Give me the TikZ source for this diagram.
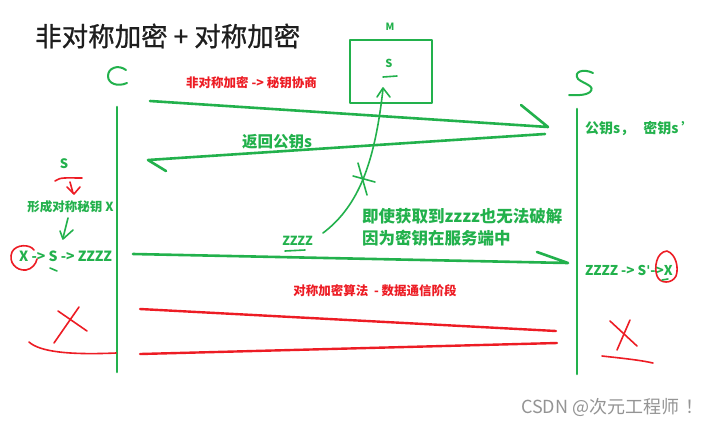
\documentclass[tikz,border=0pt]{standalone}
\usepackage{fontspec}
\setmainfont{Noto Sans CJK SC}
\newfontfamily\dejavu{DejaVu Sans}
\definecolor{pg}{RGB}{34,177,76}
\definecolor{pr}{RGB}{237,28,36}
\definecolor{ttl}{RGB}{30,30,30}
\begin{document}
\begin{tikzpicture}[x=1pt,y=-1pt,line cap=round,line join=round,
  gline/.style={draw=pg,line width=2.6pt},
  rline/.style={draw=pr,line width=2.4pt},
  gpen/.style={draw=pg,line width=1.6pt},
  rpen/.style={draw=pr,line width=1.6pt},
  txt/.style={inner sep=0pt,font=\bfseries\fontsize{#1}{#1}\selectfont},
  gtxt/.style={txt=#1,text=pg},
  rtxt/.style={txt=#1,text=pr}]
\useasboundingbox (0,0) rectangle (719,424);
\fill[white] (0,0) rectangle (719,424);
% title
\node[inner sep=0pt,anchor=west,text=ttl,font=\fontsize{26.5}{26.5}\selectfont\addfontfeatures{FakeBold=0.8}] (title) at (35,36) {非对称加密 + 对称加密};
% C and S handwritten
\draw[gpen,line width=2pt] (126,70) .. controls (118,64) and (108,68) .. (108,76) .. controls (108,84) and (118,87) .. (127,83);
\draw[gpen,line width=2pt] (593,73) .. controls (583,68) and (573,72) .. (578,79) .. controls (584,84) and (596,86) .. (590,92) .. controls (585,96) and (575,95) .. (569,95);
% lifelines
\coordinate (cTop) at (117,107); \coordinate (cBot) at (117,372);
\coordinate (sTop) at (577,109); \coordinate (sBot) at (577,374);
\draw[gline] (cTop) -- (cBot);
\draw[gline] (sTop) -- (sBot);
% M box
\node[draw=pg,line width=2.6pt,minimum width=82pt,minimum height=63pt,inner sep=0pt] (mbox) at (391,71.5) {};
\node[gtxt=10] (mlbl) at (390,27) {M};
\node[gtxt=11] (ms) at (389,63) {S};
\draw[gpen] (383,77) -- (397,76);
% red label top
\node[rtxt=12.5] (l1) at (251.5,83) {非对称加密 -> 秘钥协商};
% arrow 1
\coordinate (a1s) at (150,101); \coordinate (a1e) at (548,127); \coordinate (a1b) at (521,105);
\draw[gline] (a1s) -- (a1e) -- (a1b);
% arrow 2
\coordinate (a2s) at (545,134); \coordinate (a2e) at (148,160); \coordinate (a2b) at (166,171);
\draw[gline] (a2s) -- (a2e) -- (a2b);
\node[gtxt=15.5] (ret) at (277,142) {返回公钥s};
\node[gtxt=14,anchor=west] (keys) at (585,128) {公钥s，\hspace{9pt}密钥s\hspace{3pt}’};
% left column
\node[gtxt=13] (ls) at (64,164) {S};
\draw[rpen] (55,181) .. controls (60,177) and (66,178) .. (82,178);
\draw[rpen] (70,182) -- (73,193);
\draw[rpen] (67,187) -- (74,194) -- (80,187);
\node[gtxt=12.5] (form) at (70.5,207) {形成对称秘钥 X};
\draw[gpen] (68,218) -- (63,238);
\draw[gpen] (60,231) -- (63,239) -- (73,230);
\node[gtxt=14,anchor=west] (xsz) at (19,256) {X -> S -> ZZZZ};
\draw[rpen] (34,250) .. controls (30,244) and (16,244) .. (12,252) .. controls (8,262) and (16,271) .. (26,270) .. controls (32,269) and (36,264) .. (37,259);
\draw[gpen] (50,268) -- (57,271);
% arrow 3
\coordinate (a3s) at (133,254); \coordinate (a3e) at (568,263); \coordinate (a3b) at (537,252);
\draw[gline] (a3s) -- (a3e) -- (a3b);
\node[gtxt=12.5] (zz) at (297.5,241) {ZZZZ};
\draw[gpen] (285,251) -- (305,250);
% intercept curve
\coordinate (cvS) at (323,233); \coordinate (cvE) at (383,89);
\draw[gpen] (cvS) .. controls (360,205) and (375,160) .. (cvE);
\draw[gpen] (377,97) -- (383,88) -- (390,97);
\draw[gpen] (358,163) -- (367,195);
\draw[gpen] (353,176) -- (375,182);
\node[gtxt=16.5,anchor=west] (n1) at (362,216) {即使获取到zzzz也无法破解};
\node[gtxt=16.5,anchor=west] (n2) at (362,238) {因为密钥在服务端中};
% right column
\node[gtxt=13.5,anchor=west] (zsx) at (585,270) {ZZZZ -> S{\dejavu\bfseries\char"27}->X};
\draw[rpen] (667,251) .. controls (656,252) and (654,268) .. (657,276) .. controls (660,284) and (672,284) .. (676,276) .. controls (679,268) and (676,254) .. (667,251);
\draw[gpen] (662,280) -- (668,279);
% red section label
\node[rtxt=12.5] (l2) at (375,291) {对称加密算法~ - 数据通信阶段};
% red lines
\coordinate (r1s) at (140,309); \coordinate (r1e) at (556,331);
\coordinate (r2s) at (140,354); \coordinate (r2e) at (557,343);
\draw[rline] (r1s) -- (r1e);
\draw[rline] (r2s) -- (r2e);
% red X marks
\draw[rpen] (58,311) -- (87,331);
\draw[rpen] (79,307) -- (54,343);
\draw[rpen] (29,342) .. controls (40,352) and (70,355) .. (116,353);
\draw[rpen] (610,321) -- (637,346);
\draw[rpen] (630,320) -- (617,350);
\draw[rpen] (602,356) .. controls (620,358) and (640,360) .. (653,363);
% watermark
\node[inner sep=0pt,anchor=west,text=black!42,font=\fontsize{18}{18}\selectfont] (wm) at (521,407) {CSDN @次元工程师\hspace{6pt}！};
\end{tikzpicture}
\end{document}
